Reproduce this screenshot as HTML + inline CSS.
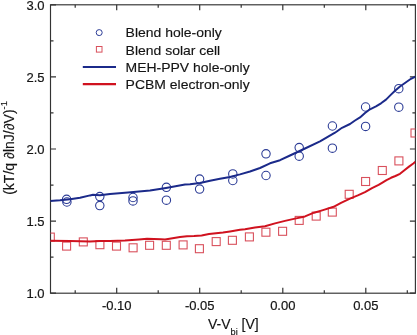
<!DOCTYPE html>
<html><head><meta charset="utf-8"><style>
html,body{margin:0;padding:0;background:#fff;width:417px;height:335px;overflow:hidden}
svg{display:block;filter:blur(0.3px)}
</style></head><body><svg width="417" height="335" viewBox="0 0 417 335" font-family="'Liberation Sans', sans-serif"><rect x="50.5" y="4.8" width="364.9" height="288.4" fill="none" stroke="#333333" stroke-width="1.15"/><path d="M75.2,293.2 v-3 M75.2,4.8 v3 M116.7,293.2 v-5.5 M116.7,4.8 v5.5 M158.2,293.2 v-3 M158.2,4.8 v3 M199.7,293.2 v-5.5 M199.7,4.8 v5.5 M241.2,293.2 v-3 M241.2,4.8 v3 M282.8,293.2 v-5.5 M282.8,4.8 v5.5 M324.3,293.2 v-3 M324.3,4.8 v3 M365.8,293.2 v-5.5 M365.8,4.8 v5.5 M407.3,293.2 v-3 M407.3,4.8 v3 M50.5,293.2 h5.5 M415.4,293.2 h-5.5 M50.5,257.1 h3 M415.4,257.1 h-3 M50.5,221.1 h5.5 M415.4,221.1 h-5.5 M50.5,185.1 h3 M415.4,185.1 h-3 M50.5,149.0 h5.5 M415.4,149.0 h-5.5 M50.5,112.9 h3 M415.4,112.9 h-3 M50.5,76.9 h5.5 M415.4,76.9 h-5.5 M50.5,40.8 h3 M415.4,40.8 h-3 M50.5,4.8 h5.5 M415.4,4.8 h-5.5" stroke="#333333" stroke-width="1.2" fill="none"/><clipPath id="c"><rect x="50.5" y="4.8" width="364.9" height="288.4"/></clipPath><g clip-path="url(#c)"><rect x="46.3" y="233.1" width="8.0" height="8.0" fill="none" stroke="#d9505c" stroke-width="1.1"/><rect x="62.6" y="242.1" width="8.0" height="8.0" fill="none" stroke="#d9505c" stroke-width="1.1"/><rect x="79.3" y="237.9" width="8.0" height="8.0" fill="none" stroke="#d9505c" stroke-width="1.1"/><rect x="95.9" y="240.7" width="8.0" height="8.0" fill="none" stroke="#d9505c" stroke-width="1.1"/><rect x="112.5" y="242.1" width="8.0" height="8.0" fill="none" stroke="#d9505c" stroke-width="1.1"/><rect x="129.1" y="243.8" width="8.0" height="8.0" fill="none" stroke="#d9505c" stroke-width="1.1"/><rect x="145.6" y="241.3" width="8.0" height="8.0" fill="none" stroke="#d9505c" stroke-width="1.1"/><rect x="162.3" y="241.3" width="8.0" height="8.0" fill="none" stroke="#d9505c" stroke-width="1.1"/><rect x="179.1" y="240.9" width="8.0" height="8.0" fill="none" stroke="#d9505c" stroke-width="1.1"/><rect x="195.4" y="244.7" width="8.0" height="8.0" fill="none" stroke="#d9505c" stroke-width="1.1"/><rect x="212.2" y="237.6" width="8.0" height="8.0" fill="none" stroke="#d9505c" stroke-width="1.1"/><rect x="228.4" y="236.3" width="8.0" height="8.0" fill="none" stroke="#d9505c" stroke-width="1.1"/><rect x="245.4" y="232.9" width="8.0" height="8.0" fill="none" stroke="#d9505c" stroke-width="1.1"/><rect x="261.9" y="228.2" width="8.0" height="8.0" fill="none" stroke="#d9505c" stroke-width="1.1"/><rect x="278.6" y="227.3" width="8.0" height="8.0" fill="none" stroke="#d9505c" stroke-width="1.1"/><rect x="295.2" y="216.4" width="8.0" height="8.0" fill="none" stroke="#d9505c" stroke-width="1.1"/><rect x="312.2" y="212.1" width="8.0" height="8.0" fill="none" stroke="#d9505c" stroke-width="1.1"/><rect x="328.3" y="208.1" width="8.0" height="8.0" fill="none" stroke="#d9505c" stroke-width="1.1"/><rect x="345.2" y="190.3" width="8.0" height="8.0" fill="none" stroke="#d9505c" stroke-width="1.1"/><rect x="361.6" y="177.5" width="8.0" height="8.0" fill="none" stroke="#d9505c" stroke-width="1.1"/><rect x="378.3" y="166.5" width="8.0" height="8.0" fill="none" stroke="#d9505c" stroke-width="1.1"/><rect x="394.9" y="156.9" width="8.0" height="8.0" fill="none" stroke="#d9505c" stroke-width="1.1"/><rect x="411.0" y="129.0" width="8.0" height="8.0" fill="none" stroke="#d9505c" stroke-width="1.1"/><circle cx="66.6" cy="199.3" r="4.2" fill="none" stroke="#2c3c96" stroke-width="1.1"/><circle cx="66.9" cy="202.0" r="4.2" fill="none" stroke="#2c3c96" stroke-width="1.1"/><circle cx="99.8" cy="196.6" r="4.2" fill="none" stroke="#2c3c96" stroke-width="1.1"/><circle cx="99.8" cy="205.6" r="4.2" fill="none" stroke="#2c3c96" stroke-width="1.1"/><circle cx="133.0" cy="197.5" r="4.2" fill="none" stroke="#2c3c96" stroke-width="1.1"/><circle cx="133.0" cy="200.9" r="4.2" fill="none" stroke="#2c3c96" stroke-width="1.1"/><circle cx="166.4" cy="187.3" r="4.2" fill="none" stroke="#2c3c96" stroke-width="1.1"/><circle cx="166.4" cy="200.2" r="4.2" fill="none" stroke="#2c3c96" stroke-width="1.1"/><circle cx="199.6" cy="179.1" r="4.2" fill="none" stroke="#2c3c96" stroke-width="1.1"/><circle cx="199.6" cy="189.1" r="4.2" fill="none" stroke="#2c3c96" stroke-width="1.1"/><circle cx="232.8" cy="173.9" r="4.2" fill="none" stroke="#2c3c96" stroke-width="1.1"/><circle cx="232.8" cy="180.5" r="4.2" fill="none" stroke="#2c3c96" stroke-width="1.1"/><circle cx="266.0" cy="153.8" r="4.2" fill="none" stroke="#2c3c96" stroke-width="1.1"/><circle cx="266.0" cy="175.5" r="4.2" fill="none" stroke="#2c3c96" stroke-width="1.1"/><circle cx="299.2" cy="147.6" r="4.2" fill="none" stroke="#2c3c96" stroke-width="1.1"/><circle cx="299.2" cy="156.2" r="4.2" fill="none" stroke="#2c3c96" stroke-width="1.1"/><circle cx="332.4" cy="126.0" r="4.2" fill="none" stroke="#2c3c96" stroke-width="1.1"/><circle cx="332.4" cy="148.2" r="4.2" fill="none" stroke="#2c3c96" stroke-width="1.1"/><circle cx="365.6" cy="107.0" r="4.2" fill="none" stroke="#2c3c96" stroke-width="1.1"/><circle cx="365.6" cy="126.4" r="4.2" fill="none" stroke="#2c3c96" stroke-width="1.1"/><circle cx="398.8" cy="88.7" r="4.2" fill="none" stroke="#2c3c96" stroke-width="1.1"/><circle cx="398.8" cy="107.2" r="4.2" fill="none" stroke="#2c3c96" stroke-width="1.1"/><path d="M50.0,240.8 L70.0,241.0 L90.0,241.6 L100.0,241.0 L110.0,240.9 L125.0,240.5 L139.0,239.4 L147.0,238.8 L154.0,239.0 L161.0,239.2 L165.0,239.4 L172.5,238.2 L180.0,237.1 L187.0,236.3 L194.0,236.1 L201.6,235.5 L209.0,234.1 L216.0,233.2 L223.0,232.4 L230.0,231.4 L240.0,229.8 L245.0,229.2 L255.0,227.6 L265.0,226.3 L275.0,223.4 L285.0,220.9 L295.0,218.6 L305.0,216.4 L314.0,212.7 L323.0,210.1 L333.6,206.8 L341.0,202.9 L350.0,198.7 L358.4,195.2 L365.0,192.2 L372.0,188.2 L378.6,184.8 L382.0,182.8 L386.5,180.1 L391.0,177.8 L395.4,176.0 L400.0,173.8 L404.4,170.2 L409.0,166.6 L413.3,163.5 L415.4,161.8" fill="none" stroke="#d0121f" stroke-width="2.0" stroke-linejoin="round"/><path d="M50.0,201.1 L60.0,200.3 L70.0,199.2 L80.0,197.7 L90.0,195.4 L93.0,194.8 L100.0,195.2 L110.0,193.9 L128.0,192.5 L150.0,190.5 L166.0,188.0 L185.0,184.6 L190.0,184.2 L200.0,183.0 L210.0,180.7 L220.0,178.8 L230.0,176.9 L240.0,174.4 L250.0,171.5 L260.0,168.0 L270.0,163.3 L280.0,160.2 L290.0,155.5 L305.0,148.5 L320.0,141.3 L335.0,132.7 L342.0,127.8 L350.0,124.0 L355.0,120.5 L360.0,117.4 L365.0,113.0 L370.0,109.3 L376.0,106.4 L381.0,103.3 L386.0,99.6 L391.0,94.6 L395.0,90.8 L400.0,86.5 L406.0,82.3 L411.0,78.8 L415.4,76.6" fill="none" stroke="#1b2a8a" stroke-width="2.0" stroke-linejoin="round"/></g><g font-size="13" fill="#141414" stroke="#141414" stroke-width="0.2"><text x="116.7" y="309.6" text-anchor="middle">-0.10</text><text x="199.7" y="309.6" text-anchor="middle">-0.05</text><text x="282.8" y="309.6" text-anchor="middle">0.00</text><text x="365.8" y="309.6" text-anchor="middle">0.05</text><text x="44.6" y="9.9" text-anchor="end">3.0</text><text x="44.6" y="82.0" text-anchor="end">2.5</text><text x="44.6" y="154.1" text-anchor="end">2.0</text><text x="44.6" y="226.2" text-anchor="end">1.5</text><text x="44.6" y="298.3" text-anchor="end">1.0</text></g><text x="208" y="329.1" font-size="14" fill="#141414" stroke="#141414" stroke-width="0.15">V-V<tspan font-size="9.2" dy="6.2">bi</tspan><tspan dy="-6.2"> [V]</tspan></text><text transform="translate(14.2,194.8) rotate(-90)" font-size="14" fill="#141414" stroke="#141414" stroke-width="0.15">(kT/q ∂lnJ/∂V)<tspan font-size="9.5" dy="-7.2">-1</tspan></text><g font-size="13.3" fill="#141414" stroke="#141414" stroke-width="0.15"><circle cx="99.2" cy="32.6" r="3.0" fill="none" stroke="#2c3c96" stroke-width="1.0"/><rect x="96.4" y="46.5" width="5.6" height="5.6" fill="none" stroke="#d9505c" stroke-width="1.0"/><path d="M82.8,67.0 H116" stroke="#1b2a8a" stroke-width="2.1"/><path d="M82.8,84.1 H116" stroke="#d0121f" stroke-width="2.1"/><text x="119.62" y="37.5" transform="scale(1.05,1)">Blend hole-only</text><text x="119.62" y="54.6" transform="scale(1.05,1)">Blend solar cell</text><text x="119.62" y="71.7" transform="scale(1.05,1)">MEH-PPV hole-only</text><text x="119.62" y="88.8" transform="scale(1.05,1)">PCBM electron-only</text></g></svg></body></html>
